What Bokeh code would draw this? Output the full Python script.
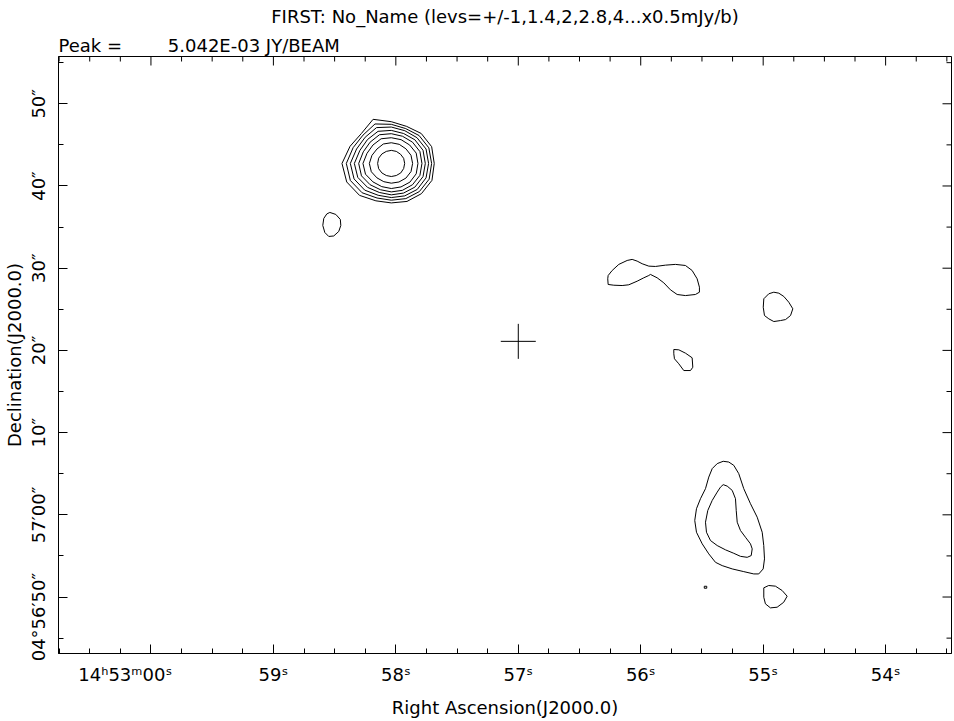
import math
from bokeh.plotting import figure
from bokeh.models import Range1d, FixedTicker, Title
from bokeh.embed import file_html
from bokeh.resources import INLINE

# ---------------- data ----------------
TITLE = "FIRST: No_Name (levs=+/-1,1.4,2,2.8,4...x0.5mJy/b)"
PEAK = "Peak =" + "\u00a0" * 8 + "5.042E-03 JY/BEAM"
X_LABEL = "Right Ascension(J2000.0)"
Y_LABEL = "Declination(J2000.0)"

# RA in seconds of time past 14h52m ; Dec in arcsec past +04d57m00s
ra_view = [60.755, 53.462]
dec_view = [-16.87, 55.75]
dec0_deg = 4.95

ra_ticks = [60, 59, 58, 57, 56, 55, 54]
ra_tick_labels = ["14\u02b053\u1d5000\u02e2" + "\u00a0" * 9, "59\u02e2", "58\u02e2",
                  "57\u02e2", "56\u02e2", "55\u02e2", "54\u02e2"]
ra_minor = [60.75, 60.5, 60.25, 59.75, 59.5, 59.25, 58.75, 58.5, 58.25,
            57.75, 57.5, 57.25, 56.75, 56.5, 56.25, 55.75, 55.5, 55.25,
            54.75, 54.5, 54.25, 53.75, 53.5]
dec_ticks = [-10, 0, 10, 20, 30, 40, 50]
dec_tick_labels = ["04\u00b056\u203250\u2033" + "\u00a0" * 7, "57\u203200\u2033",
                   "10\u2033", "20\u2033", "30\u2033", "40\u2033", "50\u2033"]
dec_minor = [-15, -5, 5, 15, 25, 35, 45, 55]

# bright source: contour radii (arcsec) read at fixed position angles
main_ra = 58.037
main_dec = 42.74
main_angles_deg = [0, 22.5, 45, 67.5, 90, 112.5, 135, 157.5,
                   180, 202.5, 225, 247.5, 270, 292.5, 315, 337.5]
main_radii = [
    [5.24, 5.33, 5.16, 4.88, 5.08, 5.81, 5.16, 5.45, 6.02, 5.89, 5.49, 4.92, 4.80, 5.00, 5.20, 5.37],
    [4.92, 4.96, 4.80, 4.59, 4.76, 5.20, 4.88, 5.04, 5.49, 5.41, 5.04, 4.55, 4.47, 4.63, 4.84, 5.00],
    [4.55, 4.59, 4.43, 4.31, 4.43, 4.72, 4.51, 4.59, 5.00, 4.92, 4.59, 4.19, 4.15, 4.27, 4.47, 4.59],
    [4.15, 4.19, 4.07, 3.94, 4.02, 4.23, 4.11, 4.15, 4.51, 4.43, 4.11, 3.82, 3.82, 3.90, 4.07, 4.19],
    [3.74, 3.78, 3.66, 3.58, 3.62, 3.78, 3.66, 3.70, 3.98, 3.94, 3.66, 3.46, 3.46, 3.54, 3.66, 3.78],
    [3.25, 3.29, 3.17, 3.13, 3.13, 3.25, 3.17, 3.21, 3.46, 3.41, 3.17, 3.05, 3.05, 3.09, 3.21, 3.29],
    [2.60, 2.60, 2.52, 2.52, 2.52, 2.56, 2.48, 2.56, 2.68, 2.64, 2.48, 2.40, 2.40, 2.44, 2.52, 2.60],
    [1.63, 1.63, 1.59, 1.59, 1.59, 1.59, 1.63, 1.67, 1.67, 1.67, 1.63, 1.59, 1.59, 1.59, 1.63, 1.63],
]

# fainter contours: centre (RA s, Dec ") and vertex offsets (arcsec west, arcsec north)
blob_ra = [58.523, 55.896, 54.883, 55.659, 55.267, 55.267, 54.908, 55.471]
blob_dec = [35.32, 28.87, 25.34, 18.77, -0.69, -0.69, -9.94, -8.81]
blob_dx = [
    [-0.24, 0.49, 1.04, 1.10, 0.85, 0.24, -0.37, -0.85, -1.10, -0.98, -0.61],
    [-5.53, -5.04, -4.23, -3.21, -2.60, -1.99, -1.38, -0.57, 0.24, 1.46, 2.68, 3.90, 4.72,
     5.33, 5.61, 5.61, 5.12, 3.90, 2.89, 2.07, 1.26, 0.45, -0.37, -0.57, -1.18, -1.99,
     -3.01, -3.82, -4.84, -5.53, -5.58],
    [-1.67, -1.06, -0.45, 0.16, 0.77, 1.38, 1.87, 1.59, 0.98, 0.37, -0.45, -1.06, -1.59, -1.74],
    [-1.06, -0.45, 0.37, 1.18, 1.26, 0.98, 0.16, -0.45, -0.98, -1.06],
    [-0.89, -0.21, 0.40, 1.01, 1.62, 2.44, 3.26, 3.87, 4.06, 4.15, 3.99, 3.45, 2.84, 1.62,
     0.21, -1.01, -1.83, -2.65, -3.45, -4.15, -4.36, -4.15, -3.66, -3.05, -2.65, -2.23, -1.62],
    [-0.89, -0.40, 0.21, 0.61, 0.70, 0.82, 1.22, 1.83, 2.44, 2.65, 2.53, 2.04, 1.22, 0.40,
     -0.61, -1.62, -2.44, -2.93, -3.05, -2.77, -2.23, -1.62, -1.22],
    [-1.30, -0.70, 0.12, 0.94, 1.55, 1.13, 0.33, -0.49, -1.10, -1.30],
    [-0.15, 0.15, 0.15, -0.15],
]
blob_dy = [
    [1.46, 1.22, 0.61, -0.12, -0.85, -1.40, -1.46, -0.98, -0.12, 0.73, 1.28],
    [0.24, 0.85, 1.59, 2.07, 2.20, 1.99, 1.67, 1.38, 1.34, 1.50, 1.59, 1.46, 0.85,
     -0.16, -1.18, -1.79, -2.07, -2.20, -2.07, -1.50, -0.65, -0.04, 0.37, 0.24, -0.04, -0.45,
     -0.89, -0.98, -0.94, -0.85, -0.16],
    [0.94, 1.55, 1.74, 1.62, 1.22, 0.52, -0.28, -1.10, -1.59, -1.71, -1.83, -1.50, -1.10, -0.09],
    [1.34, 1.30, 0.89, 0.33, -0.82, -1.22, -1.22, -0.40, 0.21, 0.82],
    [7.20, 7.11, 6.71, 5.70, 3.87, 2.04, 0.40, -1.43, -3.05, -4.67, -5.89, -6.50, -6.50, -6.22,
     -5.89, -5.49, -5.09, -4.06, -2.84, -1.43, 0.0, 1.43, 2.65, 3.87, 5.28, 6.31, 6.92],
    [4.36, 4.18, 3.66, 2.65, 1.22, -0.21, -1.22, -2.04, -2.84, -3.45, -4.27, -4.48, -4.36, -3.99,
     -3.57, -3.05, -2.44, -1.43, -0.21, 1.22, 2.44, 3.45, 4.06],
    [1.06, 1.34, 1.26, 0.73, 0.04, -0.70, -1.30, -1.38, -0.89, -0.09],
    [0.12, 0.12, -0.12, -0.12],
]

# target position marker
target_ra = [57.0]
target_dec = [21.1]

# ---------------- build contour lines ----------------
sec_per_arcsec = 1.0 / (15.0 * math.cos(math.radians(dec0_deg)))
xs, ys = [], []
for radii in main_radii:
    cx, cy = [], []
    for a, r in zip(main_angles_deg, radii):
        t = math.radians(a)
        cx.append(main_ra - r * math.cos(t) * sec_per_arcsec)
        cy.append(main_dec + r * math.sin(t))
    cx.append(cx[0]); cy.append(cy[0])
    xs.append(cx); ys.append(cy)
for ra, dec, dxl, dyl in zip(blob_ra, blob_dec, blob_dx, blob_dy):
    cx = [ra - dx * sec_per_arcsec for dx in dxl]
    cy = [dec + dy for dy in dyl]
    cx.append(cx[0]); cy.append(cy[0])
    xs.append(cx); ys.append(cy)

# ---------------- figure ----------------
FONT = "DejaVu Sans"
p = figure(width=952, height=720,
           x_range=Range1d(ra_view[0], ra_view[1]),
           y_range=Range1d(dec_view[0], dec_view[1]),
           output_backend="svg", toolbar_location=None, title=None,
           min_border_left=58, min_border_right=1, min_border_top=56, min_border_bottom=67)
p.background_fill_color = "white"
p.border_fill_color = "white"
p.outline_line_color = "black"
p.outline_line_alpha = 1.0
p.xgrid.visible = False
p.ygrid.visible = False

xt = FixedTicker(ticks=ra_ticks, minor_ticks=ra_minor)
yt = FixedTicker(ticks=dec_ticks, minor_ticks=dec_minor)


def style_axis(ax):
    ax.axis_line_color = "black"
    ax.major_tick_line_color = "black"
    ax.minor_tick_line_color = "black"
    ax.major_tick_in = 9
    ax.major_tick_out = 0
    ax.minor_tick_in = 5
    ax.minor_tick_out = 0
    ax.major_label_text_font = FONT
    ax.major_label_text_font_size = "18px"
    ax.major_label_text_color = "black"
    ax.axis_label_text_font = FONT
    ax.axis_label_text_font_size = "18px"
    ax.axis_label_text_font_style = "normal"
    ax.axis_label_text_color = "black"


xa = p.xaxis[0]
xa.ticker = xt
style_axis(xa)
xa.major_label_overrides = {t: l for t, l in zip(ra_ticks, ra_tick_labels)}
xa.major_label_standoff = 10
xa.axis_label = X_LABEL
xa.axis_label_standoff = 9

ya = p.yaxis[0]
ya.ticker = yt
style_axis(ya)
ya.major_label_overrides = {t: l for t, l in zip(dec_ticks, dec_tick_labels)}
ya.major_label_orientation = "vertical"
ya.major_label_standoff = 9
ya.axis_label = Y_LABEL
ya.axis_label_standoff = 1

# mirrored tick marks on the top and right frame edges (inward)
p.ray(x=ra_ticks, y=[dec_view[1]] * len(ra_ticks), length=9, length_units="screen",
      angle=-math.pi / 2, line_color="black", line_width=1)
p.ray(x=ra_minor, y=[dec_view[1]] * len(ra_minor), length=5, length_units="screen",
      angle=-math.pi / 2, line_color="black", line_width=1)
p.ray(x=[ra_view[1]] * len(dec_ticks), y=dec_ticks, length=9, length_units="screen",
      angle=math.pi, line_color="black", line_width=1)
p.ray(x=[ra_view[1]] * len(dec_minor), y=dec_minor, length=5, length_units="screen",
      angle=math.pi, line_color="black", line_width=1)

p.add_layout(Title(text=PEAK, align="left", text_font=FONT, text_font_size="18px",
                   text_font_style="normal", text_color="black", standoff=2), "above")
p.add_layout(Title(text=TITLE, align="center", vertical_align="top", text_font=FONT,
                   text_font_size="18px", text_font_style="normal", text_color="black",
                   standoff=5), "above")

p.multi_line(xs, ys, line_color="black", line_width=1)
p.scatter(target_ra, target_dec, marker="cross", size=35, line_color="black", line_width=1)

open("out.html", "w").write(file_html(p, INLINE))
